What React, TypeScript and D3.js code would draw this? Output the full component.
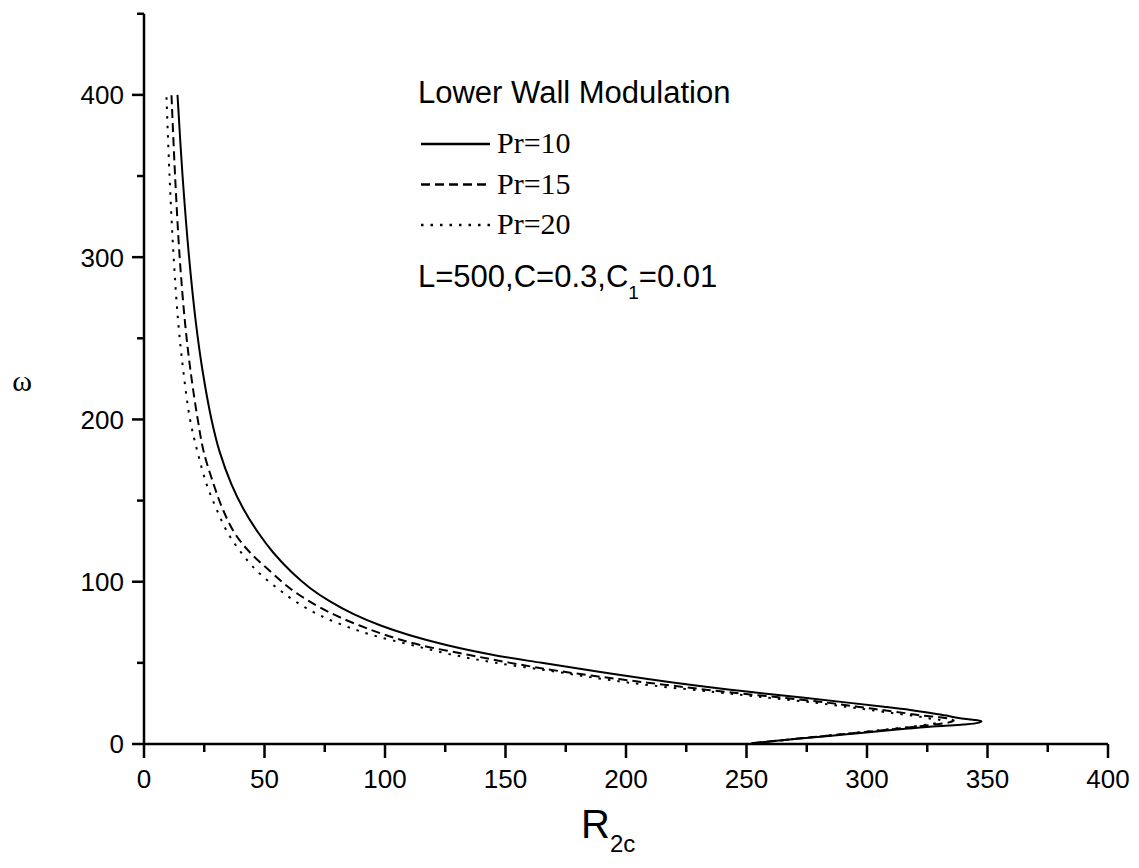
import React from 'react';
import * as d3 from 'd3';

// ---- data (R_2c, omega) ----
const xTicks = [0, 50, 100, 150, 200, 250, 300, 350, 400];
const xMinorTicks = [25, 75, 125, 175, 225, 275, 325, 375];
const yTicks = [0, 100, 200, 300, 400];
const yMinorTicks = [50, 150, 250, 350, 450];

// ordered along each curve: from the lower branch (near omega = 0) round the tip and up to omega = 400
const pr10Omega = [0.5, 2, 4, 6, 8, 9.5, 11, 12, 13, 14, 15, 16, 17.5, 19, 21, 23, 25.5, 28.5, 32, 36, 40, 45, 50, 55, 61, 67, 73, 80, 88, 96, 106, 118, 130, 145, 160, 180, 200, 230, 260, 300, 350, 400];
const pr10R = [252, 262.5, 277, 291.5, 306, 317, 329, 340, 346, 347.5, 344, 338, 333, 327, 318, 307, 292, 274, 252, 229, 209, 186.7, 165, 144.5, 125.4, 110.3, 98.2, 87, 77, 69, 61.2, 53.6, 47.5, 41.2, 36.3, 31.4, 28, 24.3, 21.5, 18.7, 16, 13.9];

const pr15Omega = [0.5, 2, 4, 6, 8, 9.5, 11, 12.5, 13.5, 14.5, 15.5, 16.5, 17.5, 19, 21, 23, 25.5, 28.5, 32, 36, 40, 45, 50, 55, 61, 67, 73, 80, 88, 96, 106, 118, 130, 145, 160, 180, 200, 230, 260, 300, 350, 400];
const pr15R = [252.5, 262.5, 276, 289.5, 303, 313, 322, 330.5, 334.5, 336, 334.5, 330, 323, 316, 306, 296, 283.5, 265, 242, 219, 197, 172, 152, 134.5, 114.5, 100.5, 89.5, 78.5, 68.5, 60.5, 52.7, 44, 37.6, 32.6, 28.9, 24.8, 22.3, 19.3, 17, 14.8, 12.9, 11.4];

const pr20Omega = [0.5, 2, 4, 6, 8, 9.5, 11, 12.5, 13.5, 14.5, 15.5, 16.5, 17.5, 19, 21, 23, 25.5, 28.5, 32, 36, 40, 45, 50, 55, 61, 67, 73, 80, 88, 96, 106, 118, 130, 145, 160, 180, 200, 230, 260, 300, 350, 400];
const pr20R = [253, 262.5, 276, 289, 302, 312, 320, 327.5, 330.5, 330.5, 327, 323, 318.5, 311, 301, 291, 278, 259, 237, 211, 190.5, 169, 146, 128, 111, 95, 83, 72, 62.7, 55.3, 47.3, 40.3, 34.8, 30, 26, 22.2, 19.1, 16.3, 14.2, 12.3, 10.6, 9.3];

const seriesLabels = ['Pr=10', 'Pr=15', 'Pr=20'];
const seriesDash = ['none', '9,5', '2.5,7'];

const SANS = '"Liberation Sans", Arial, sans-serif';
const SERIF = '"Liberation Serif", "Times New Roman", serif';

export default function App() {
  const W = 1139;
  const H = 868;
  const x = d3.scaleLinear().domain([0, 400]).range([144, 1108]);
  const y = d3.scaleLinear().domain([0, 450]).range([744, 13.75]);

  const line = d3
    .line<[number, number]>()
    .x((d) => x(d[0]))
    .y((d) => y(d[1]))
    .curve(d3.curveCatmullRom.alpha(0.5));

  const series = [
    { r: pr10R, w: pr10Omega },
    { r: pr15R, w: pr15Omega },
    { r: pr20R, w: pr20Omega },
  ].map((s) => s.r.map((r, i) => [r, s.w[i]] as [number, number]));

  const axisW = 2.5;

  return (
    <svg
      width={W}
      height={H}
      viewBox={`0 0 ${W} ${H}`}
      style={{ position: 'absolute', left: 0, top: 0, background: '#fff' }}
    >
      <rect x={0} y={0} width={W} height={H} fill="#fff" />
      {/* curves */}
      {series.map((pts, i) => (
        <path
          key={i}
          d={line(pts) || ''}
          fill="none"
          stroke="#000"
          strokeWidth={2}
          strokeDasharray={seriesDash[i]}
        />
      ))}

      {/* x axis */}
      <line x1={x(0)} x2={x(400)} y1={y(0)} y2={y(0)} stroke="#000" strokeWidth={axisW} />
      {xTicks.map((t) => (
        <g key={'xt' + t}>
          <line x1={x(t)} x2={x(t)} y1={y(0)} y2={y(0) + 14} stroke="#000" strokeWidth={axisW} />
          <text x={x(t)} y={788} textAnchor="middle" fontFamily={SANS} fontSize={26} fill="#000">
            {t}
          </text>
        </g>
      ))}
      {xMinorTicks.map((t) => (
        <line key={'xm' + t} x1={x(t)} x2={x(t)} y1={y(0)} y2={y(0) + 8} stroke="#000" strokeWidth={axisW} />
      ))}

      {/* y axis */}
      <line x1={x(0)} x2={x(0)} y1={y(0) + 1} y2={y(450)} stroke="#000" strokeWidth={axisW} />
      {yTicks.map((t) => (
        <g key={'yt' + t}>
          <line x1={x(0) - 12} x2={x(0)} y1={y(t)} y2={y(t)} stroke="#000" strokeWidth={axisW} />
          <text x={124} y={y(t)} dy="0.36em" textAnchor="end" fontFamily={SANS} fontSize={26} fill="#000">
            {t}
          </text>
        </g>
      ))}
      {yMinorTicks.map((t) => (
        <line key={'ym' + t} x1={x(0) - 7} x2={x(0)} y1={y(t)} y2={y(t)} stroke="#000" strokeWidth={axisW} />
      ))}

      {/* axis titles */}
      <text x={22} y={391} textAnchor="middle" fontFamily={SERIF} fontSize={30} fill="#000">
        ω
      </text>
      <text x={581} y={838} fontFamily={SANS} fontSize={40} fill="#000">
        R
        <tspan fontSize={24} dy={14}>
          2c
        </tspan>
      </text>

      {/* legend */}
      <text x={418} y={103} fontFamily={SANS} fontSize={31} fill="#000">
        Lower Wall Modulation
      </text>
      {seriesLabels.map((lab, i) => (
        <g key={lab}>
          <line
            x1={421}
            x2={490}
            y1={144 + i * 40.5}
            y2={144 + i * 40.5}
            stroke="#000"
            strokeWidth={2.5}
            strokeDasharray={seriesDash[i]}
          />
          <text x={497} y={153 + i * 40.5} fontFamily={SERIF} fontSize={30} fill="#000">
            {lab}
          </text>
        </g>
      ))}
      <text x={418} y={287} fontFamily={SANS} fontSize={31} fill="#000">
        L=500,C=0.3,C
        <tspan fontSize={19} dy={12}>
          1
        </tspan>
        <tspan dy={-12}>=0.01</tspan>
      </text>
    </svg>
  );
}
